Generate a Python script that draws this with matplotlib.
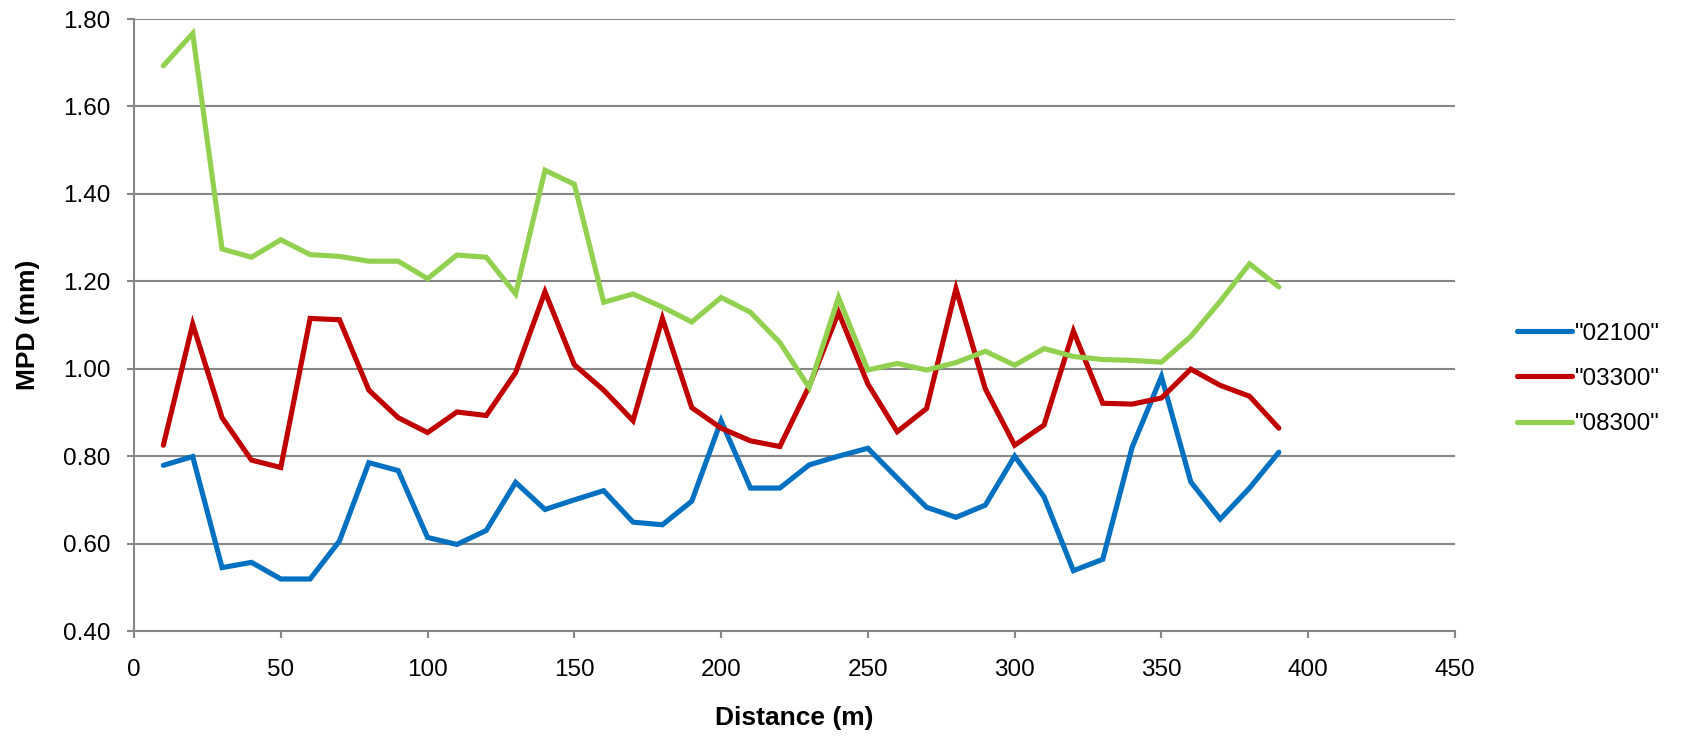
import matplotlib.pyplot as plt

# Distance along the section (m)
distance = [10, 20, 30, 40, 50, 60, 70, 80, 90, 100,
            110, 120, 130, 140, 150, 160, 170, 180, 190, 200,
            210, 220, 230, 240, 250, 260, 270, 280, 290, 300,
            310, 320, 330, 340, 350, 360, 370, 380, 390]

# MPD (mm) for each run
mpd_02100 = [0.779, 0.799, 0.545, 0.557, 0.519, 0.519, 0.606, 0.785, 0.767, 0.614,
             0.598, 0.630, 0.740, 0.678, 0.700, 0.721, 0.649, 0.643, 0.697, 0.881,
             0.727, 0.727, 0.780, 0.800, 0.818, 0.750, 0.683, 0.660, 0.688, 0.800,
             0.707, 0.538, 0.564, 0.820, 0.982, 0.741, 0.656, 0.727, 0.809]
mpd_03300 = [0.825, 1.102, 0.888, 0.791, 0.774, 1.115, 1.112, 0.951, 0.888, 0.854,
             0.901, 0.893, 0.991, 1.176, 1.009, 0.951, 0.881, 1.115, 0.911, 0.864,
             0.835, 0.822, 0.960, 1.129, 0.965, 0.856, 0.909, 1.183, 0.954, 0.825,
             0.871, 1.086, 0.921, 0.919, 0.933, 0.999, 0.962, 0.937, 0.864]
mpd_08300 = [1.693, 1.767, 1.274, 1.255, 1.295, 1.261, 1.257, 1.246, 1.246, 1.206,
             1.260, 1.255, 1.171, 1.454, 1.422, 1.152, 1.171, 1.141, 1.107, 1.163,
             1.129, 1.060, 0.957, 1.163, 0.997, 1.012, 0.997, 1.014, 1.040, 1.008,
             1.046, 1.028, 1.021, 1.019, 1.015, 1.074, 1.154, 1.240, 1.187]

series = [('"02100"', mpd_02100, '#0070C0'),
          ('"03300"', mpd_03300, '#C00000'),
          ('"08300"', mpd_08300, '#92D050')]

x_ticks = [0, 50, 100, 150, 200, 250, 300, 350, 400, 450]
y_ticks = [0.40, 0.60, 0.80, 1.00, 1.20, 1.40, 1.60, 1.80]

plt.rcParams['font.family'] = ['Liberation Sans', 'DejaVu Sans']
grid_grey = '#868686'

fig = plt.figure(figsize=(16.85, 7.36), dpi=100)
ax = fig.add_axes([134 / 1685, 1 - 631 / 736, (1455 - 134) / 1685, (631 - 19) / 736])

for label, values, color in series:
    ax.plot(distance, values, color=color, lw=3.7, label=label,
            solid_capstyle='round', solid_joinstyle='miter')

ax.set_xlim(0, 450)
ax.set_ylim(0.40, 1.80)
ax.set_xticks(x_ticks)
ax.set_yticks(y_ticks)
ax.set_yticklabels([f'{v:.2f}' for v in y_ticks])
ax.yaxis.grid(True, color=grid_grey, lw=1.5)
ax.set_axisbelow(True)

for side in ('top', 'right'):
    ax.spines[side].set_visible(False)
for side in ('left', 'bottom'):
    ax.spines[side].set_color(grid_grey)
    ax.spines[side].set_linewidth(1.5)

ax.tick_params(axis='both', colors=grid_grey, length=5, width=1.5, direction='out',
               labelcolor='black', labelsize=17.5)
ax.tick_params(axis='x', pad=15)
ax.tick_params(axis='y', pad=12)

ax.set_xlabel('Distance (m)', fontsize=19, fontweight='bold')
ax.xaxis.set_label_coords(0.5, -0.123)
ax.set_ylabel('MPD (mm)', fontsize=19, fontweight='bold')
ax.yaxis.set_label_coords(-0.071, 0.5)

fig.legend(loc='center left', bbox_to_anchor=(1517 / 1685, 1 - 379 / 736),
           frameon=False, fontsize=17.5, handlelength=2.26, handletextpad=0.12,
           labelspacing=0.95, borderpad=0, borderaxespad=0)

fig.savefig('out.png', dpi=100)
